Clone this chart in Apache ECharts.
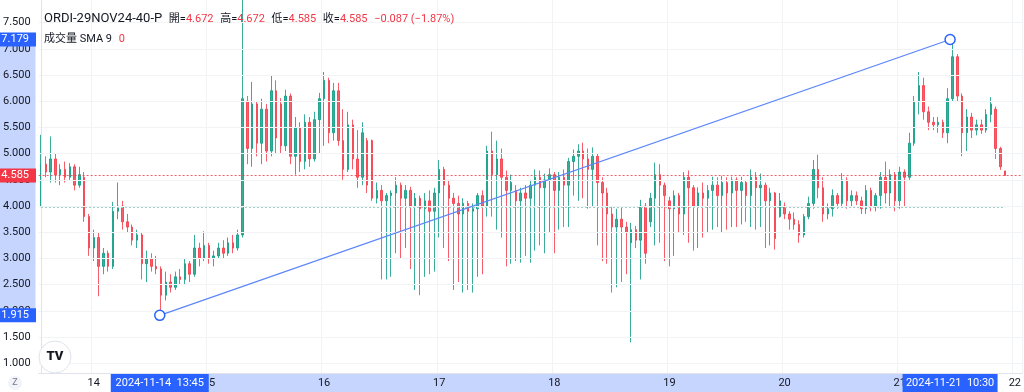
<!DOCTYPE html>
<html><head><meta charset="utf-8">
<script src="https://cdn.jsdelivr.net/npm/echarts@6/dist/echarts.min.js"></script>
<style>html,body{margin:0;padding:0;background:#fff}#c{width:1024px;height:392px}</style>
</head><body><div id="c"></div>
<script>
// ---- data (hourly candles, first candle = 2024-11-13 13:00 UTC) ----
const opens = [4.00,4.80,4.65,4.90,4.60,4.70,4.55,4.75,4.40,4.55,
3.80,3.20,3.40,2.85,3.10,2.85,3.90,4.00,3.70,3.60,
3.35,3.45,2.90,3.00,2.85,2.80,2.30,2.55,2.45,2.65,
2.60,2.90,2.70,3.20,3.00,3.25,3.00,3.05,3.20,3.10,
3.30,3.20,3.45,6.00,5.10,5.95,5.20,5.85,5.05,6.20,
5.95,5.15,6.10,4.95,5.50,4.85,5.60,4.90,5.65,6.05,
6.40,5.40,6.20,5.25,4.70,5.55,4.90,4.55,5.25,5.25,
4.15,4.30,4.10,4.20,4.25,4.40,4.15,4.30,4.00,4.15,
3.95,4.10,3.90,4.25,4.70,4.40,4.15,4.05,3.85,4.05,
3.90,3.95,4.20,4.00,5.05,4.60,4.90,4.55,4.30,4.30,
4.10,4.25,4.15,4.40,4.55,4.35,4.50,4.60,4.30,4.55,
4.40,4.85,4.95,5.05,4.90,4.70,4.95,4.45,4.25,3.85,
3.60,3.75,3.60,3.30,3.55,3.35,4.00,3.70,4.15,4.60,
4.40,4.10,3.95,4.20,3.85,4.55,4.35,4.00,4.25,4.15,
4.30,4.40,4.20,4.45,4.25,4.50,4.30,4.45,4.20,4.55,
4.35,4.40,4.10,4.25,3.80,4.00,3.85,3.75,3.65,3.45,
3.80,4.05,4.70,4.35,3.85,3.95,4.20,4.05,4.50,4.10,
4.20,4.10,3.95,4.30,4.00,4.20,4.55,4.25,4.60,4.10,
4.65,4.55,5.20,6.00,6.30,5.80,5.60,5.55,5.60,5.40,
6.05,6.85,6.10,5.40,5.70,5.45,5.55,5.45,5.75,5.85,
5.10,4.672];
const highs = [5.36,4.95,5.33,5.00,4.80,4.85,4.82,4.80,4.75,4.65,
3.85,3.55,3.50,3.20,3.15,4.08,4.45,4.10,3.85,3.65,
3.55,3.50,3.15,3.10,3.05,2.85,2.75,2.70,2.75,2.80,
3.00,2.95,3.45,3.30,3.52,3.30,3.15,3.30,3.35,3.40,
3.45,3.55,8.50,6.10,6.37,6.00,6.05,5.95,6.50,6.40,
6.06,6.22,6.15,5.70,5.60,5.75,5.70,5.80,6.16,6.56,
6.45,6.35,6.35,5.85,5.80,5.65,5.45,5.60,5.30,5.27,
4.45,4.40,4.25,4.30,4.55,4.45,4.40,4.37,4.25,4.20,
4.25,4.30,4.35,4.88,4.75,4.50,4.25,4.20,4.15,4.10,
4.05,4.25,4.30,5.15,5.42,5.25,5.10,4.68,4.60,4.40,
4.35,4.40,4.50,4.70,4.68,4.62,4.72,4.65,4.65,4.70,
4.92,5.08,5.18,5.21,5.10,5.12,5.00,4.55,4.35,3.98,
3.95,3.98,3.70,3.68,3.62,4.12,4.06,4.25,4.83,4.80,
4.45,4.18,4.30,4.25,4.65,4.68,4.40,4.36,4.45,4.40,
4.56,4.55,4.58,4.55,4.56,4.55,4.56,4.50,4.70,4.65,
4.62,4.45,4.35,4.27,4.25,4.07,3.90,3.88,3.73,3.85,
4.18,4.88,4.98,4.55,4.05,4.32,4.25,4.63,4.55,4.30,
4.28,4.18,4.40,4.35,4.25,4.65,4.85,4.70,4.65,4.75,
4.70,5.40,6.10,6.56,6.45,5.90,5.70,5.70,5.65,6.25,
7.18,6.90,6.15,5.85,5.78,5.65,5.65,5.85,6.08,5.90,
5.13,4.672];
const lows = [3.98,4.55,4.45,4.45,4.40,4.45,4.50,4.30,4.35,3.70,
3.05,2.95,2.28,2.70,2.75,2.80,3.75,3.55,3.50,3.25,
3.20,2.60,2.55,2.75,2.70,1.93,2.20,2.35,2.40,2.50,
2.50,2.55,2.65,2.85,2.95,2.90,2.85,3.00,3.00,3.05,
3.10,3.15,3.40,4.80,4.75,4.95,4.80,4.85,4.95,5.00,
5.00,5.05,4.80,4.60,4.65,4.70,4.75,4.85,5.00,5.15,
5.20,5.25,5.15,4.50,4.65,4.70,4.35,4.40,4.25,4.10,
4.05,2.60,2.60,2.65,3.10,3.00,3.20,2.80,2.40,2.30,
2.65,2.70,2.75,3.40,3.20,2.95,2.40,2.55,2.35,2.40,
2.35,2.65,2.70,3.80,3.80,3.55,3.40,2.85,2.90,2.95,
2.92,3.05,2.92,3.15,3.25,3.10,3.50,3.10,3.55,3.60,
3.60,4.20,4.10,4.15,3.95,4.00,3.25,2.95,2.90,2.35,
2.45,2.55,2.70,1.40,3.20,2.60,2.90,3.60,3.25,3.30,
2.95,2.85,3.05,3.50,3.45,3.30,3.15,3.20,3.40,3.50,
3.55,3.60,3.50,3.55,3.60,3.60,3.65,3.70,3.60,3.55,
3.60,3.20,3.25,3.17,3.78,3.75,3.55,3.55,3.30,3.40,
3.75,3.95,4.15,3.70,3.75,3.80,3.95,3.98,3.95,3.98,
4.02,3.85,3.85,3.90,3.90,3.95,4.05,3.98,3.90,3.95,
4.00,4.50,5.15,5.75,5.65,5.45,5.45,5.40,5.30,5.20,
6.00,6.00,4.95,5.05,5.30,5.35,5.38,5.40,5.60,4.90,
4.69,4.585];
const closes = [4.80,4.65,4.90,4.60,4.70,4.55,4.75,4.40,4.60,3.80,
3.20,3.40,2.85,3.10,2.85,3.90,4.00,3.70,3.60,3.35,
3.45,2.90,3.00,2.85,2.80,2.30,2.55,2.45,2.65,2.60,
2.90,2.70,3.20,3.00,3.25,3.00,3.05,3.20,3.10,3.30,
3.20,3.45,6.05,5.10,5.95,5.20,5.85,5.05,6.20,5.30,
5.15,6.10,4.95,5.50,4.85,5.60,4.90,5.65,6.05,6.40,
5.40,6.20,5.25,4.70,5.55,4.90,4.55,5.40,4.40,4.15,
4.30,4.10,4.20,4.25,4.40,4.15,4.30,4.00,4.15,3.95,
4.10,3.90,4.25,4.70,4.40,4.15,4.05,3.85,4.05,3.90,
3.95,4.20,4.00,5.05,4.60,4.90,4.55,4.30,4.45,4.10,
4.25,4.15,4.40,4.55,4.35,4.50,4.60,4.30,4.55,4.40,
4.85,4.95,5.05,4.90,4.70,4.95,4.45,4.25,3.85,3.60,
3.75,3.60,3.50,3.55,3.35,4.00,3.10,4.15,4.60,4.40,
4.20,3.95,4.20,3.85,4.55,4.35,4.00,4.25,4.15,4.30,
4.40,4.20,4.45,4.25,4.50,4.30,4.45,4.20,4.55,4.35,
4.40,4.10,4.25,3.38,4.10,3.85,3.75,3.65,3.45,3.80,
4.05,4.70,4.35,3.85,3.95,4.20,4.05,4.50,4.10,4.20,
4.10,3.95,4.30,4.00,4.20,4.55,4.25,4.60,4.10,4.65,
4.55,5.20,6.00,6.30,5.80,5.60,5.55,5.60,5.40,6.05,
6.85,6.10,5.40,5.70,5.45,5.55,5.45,5.75,5.95,5.10,
4.75,4.585];

const startUTC = [2024, 11, 13, 13];     // first hourly category
const hourCount = 205;                  // categories on the axis
const yTickValues = [1.0,1.5,2.0,2.5,3.0,3.5,4.0,4.5,5.0,5.5,6.0,6.5,7.0,7.5];
const yMin = 0.815, yMax = 7.933;
const anchorA = { date: [2024, 11, 14, 13, 45], price: 1.915, label: '2024-11-14  13:45' };
const anchorB = { date: [2024, 11, 21, 10, 30], price: 7.179, label: '2024-11-21  10:30' };
const lastPrice = 4.585;
const refLevel = 3.985;
const symbolName = 'ORDI-29NOV24-40-P';
const legendVals = { o: '4.672', h: '4.672', l: '4.585', c: '4.585', chg: '−0.087 (−1.87%)' };

// ---- build ----
const baseMs = Date.UTC(startUTC[0], startUTC[1] - 1, startUTC[2], startUTC[3]);
const pad = n => String(n).padStart(2, '0');
const categories = [];
for (let i = 0; i < hourCount; i++) {
  const d = new Date(baseMs + i * 3600000);
  categories.push(`${d.getUTCFullYear()}-${pad(d.getUTCMonth()+1)}-${pad(d.getUTCDate())} ${pad(d.getUTCHours())}:00`);
}
const candleData = opens.map((o, i) => [o, closes[i], lows[i], highs[i]]);
const idxOf = a => (Date.UTC(a[0], a[1]-1, a[2], a[3], a[4]) - baseMs) / 3600000;
const ia = idxOf(anchorA.date), ib = idxOf(anchorB.date);
const isMidnight = (idx) => categories[idx] && categories[idx].endsWith(' 00:00');

const FONT = 'Roboto, "Noto Sans CJK TC", sans-serif';
const UP = '#089981', DOWN = '#F23645', BLUE = '#2962FF', BAND = '#c6d5fe';

const chart = echarts.init(document.getElementById('c'), null, { renderer: 'canvas' });
const option = {
  animation: false,
  backgroundColor: '#ffffff',
  textStyle: { fontFamily: FONT },
  grid: { left: 36, right: 0, top: 0, bottom: 19 },
  xAxis: [{
    type: 'category', data: categories, boundaryGap: true, z: 3,
    axisLine: { lineStyle: { color: '#e0e3eb' } },
    axisTick: { show: false },
    axisLabel: {
      interval: (idx) => isMidnight(idx),
      formatter: v => String(parseInt(v.slice(8, 10), 10)),
      color: '#131722', fontSize: 11, margin: 5, fontFamily: FONT
    },
    splitLine: { show: true, interval: (idx) => isMidnight(idx), lineStyle: { color: '#f2f3f5' } }
  }, {
    type: 'value', min: -0.5, max: hourCount - 0.5, show: false
  }],
  yAxis: {
    type: 'value', min: yMin, max: yMax, position: 'left', z: 3,
    axisLine: { show: true, lineStyle: { color: '#e0e3eb' } },
    axisTick: { show: false, customValues: yTickValues },
    axisLabel: { customValues: yTickValues, formatter: v => v.toFixed(3), color: '#131722', fontSize: 11, margin: 8, fontFamily: FONT },
    splitLine: { show: true, lineStyle: { color: '#f2f3f5' } }
  },
  series: [{
    type: 'candlestick', xAxisIndex: 0, yAxisIndex: 0, data: candleData,
    barWidth: 2, clip: true,
    itemStyle: { color: UP, color0: DOWN, borderColor: UP, borderColor0: DOWN, borderWidth: 1, opacity: 0.8 },
    markLine: {
      silent: true, symbol: 'none', animation: false,
      label: { show: false },
      data: [
        { yAxis: lastPrice, lineStyle: { color: DOWN, type: [2, 2], width: 1, opacity: 0.8 } },
        [{ coord: [0, refLevel], lineStyle: { color: '#9fcfc4', type: [2, 2], width: 1 } }, { coord: [opens.length - 1, refLevel] }]
      ]
    }
  }, {
    type: 'line', xAxisIndex: 1, yAxisIndex: 0, z: 5,
    data: [[ia, anchorA.price], [ib, anchorB.price]],
    lineStyle: { color: '#5b86fb', width: 1.2 },
    symbol: 'circle', symbolSize: 10, showSymbol: true,
    itemStyle: { color: '#ffffff', borderColor: BLUE, borderWidth: 1.5 },
    silent: true
  }]
};
chart.setOption(option);

const px = v => chart.convertToPixel({ xAxisIndex: 1 }, v);
const py = v => chart.convertToPixel({ yAxisIndex: 0 }, v);
const xa = px(ia), xb = px(ib), ya = py(anchorA.price), yb = py(anchorB.price), yl = py(lastPrice);
const axisY = 392 - 19;

function priceTag(y, txt, fill) {
  return [
    { type: 'rect', z: 100, shape: { x: 0, y: y - 7, width: 36, height: 14 }, style: { fill } },
    { type: 'text', z: 101, style: { x: 29, y: y, text: txt, fill: '#fff', font: `11px ${FONT}`, align: 'right', verticalAlign: 'middle' } }
  ];
}
function timeTag(x, w, txt) {
  return [
    { type: 'rect', z: 100, shape: { x: x - w / 2, y: axisY + 1, width: w, height: 18 }, style: { fill: BLUE } },
    { type: 'text', z: 101, style: { x: x, y: axisY + 10, text: txt, fill: '#fff', font: `11px ${FONT}`, align: 'center', verticalAlign: 'middle' } }
  ];
}

const graphics = [
  { type: 'rect', z: -1, shape: { x: 0, y: yb, width: 35.5, height: ya - yb }, style: { fill: BAND } },
  { type: 'rect', z: -1, shape: { x: xa, y: axisY + 1, width: xb - xa, height: 18 }, style: { fill: BAND } },
  ...priceTag(yb, anchorB.price.toFixed(3), BLUE),
  ...priceTag(yl, lastPrice.toFixed(3), DOWN),
  ...priceTag(ya, anchorA.price.toFixed(3), BLUE),
  ...timeTag(xa, 98, anchorA.label),
  ...timeTag(xb, 95, anchorB.label),
  { type: 'text', z: 50, style: {
      x: 44, y: 19, verticalAlign: 'middle',
      text: `{t|${symbolName}}  {k|開=}{v|${legendVals.o}}  {k|高=}{v|${legendVals.h}}  {k|低=}{v|${legendVals.l}}  {k|收=}{v|${legendVals.c}}  {v|${legendVals.chg}}`,
      rich: {
        t: { fontSize: 13, fill: '#131722', fontFamily: FONT },
        k: { fontSize: 11, fill: '#131722', fontFamily: FONT },
        v: { fontSize: 11, fill: DOWN, fontFamily: FONT }
      }
  } },
  { type: 'text', z: 50, style: {
      x: 44, y: 39, verticalAlign: 'middle',
      text: `{k|成交量 SMA 9}  {v|0}`,
      rich: { k: { fontSize: 11, fill: '#131722', fontFamily: FONT }, v: { fontSize: 11, fill: DOWN, fontFamily: FONT } }
  } },
  { type: 'circle', z: 50, shape: { cx: 55, cy: 357, r: 16 }, style: { fill: '#ffffff', stroke: '#e0e3eb', lineWidth: 1 } },
  { type: 'text', z: 51, style: { x: 55, y: 357, text: 'TV', fill: '#131722', font: `900 13px ${FONT}`, align: 'center', verticalAlign: 'middle' } },
  { type: 'circle', z: 50, shape: { cx: 15, cy: 383, r: 7 }, style: { fill: '#f0f3fa' } },
  { type: 'text', z: 51, style: { x: 15, y: 383, text: 'Z', fill: '#787b86', font: `9px ${FONT}`, align: 'center', verticalAlign: 'middle' } }
];
chart.setOption({ graphic: graphics });
</script>
</body></html>
